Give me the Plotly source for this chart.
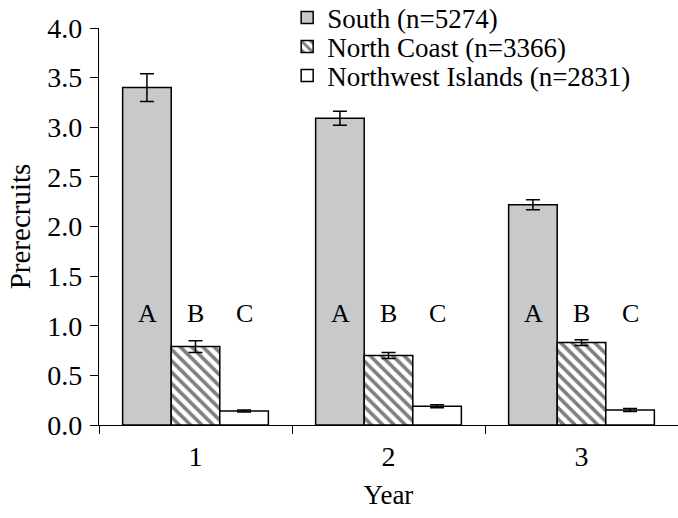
import plotly.graph_objects as go

years = ["1", "2", "3"]
south = [3.40, 3.09, 2.22]
south_err = [0.14, 0.07, 0.05]
north_coast = [0.79, 0.70, 0.83]
north_coast_err = [0.06, 0.03, 0.03]
nw_islands = [0.14, 0.19, 0.15]
nw_islands_err = [0.01, 0.015, 0.015]
series_names = ["South (n=5274)", "North Coast (n=3366)", "Northwest Islands (n=2831)"]
letters = ["A", "B", "C"]
letter_y = 1.12

FONT = "Liberation Serif"

fig = go.Figure()
err_style = dict(type="data", color="black", thickness=1.5, width=7, visible=True)

fig.add_trace(go.Bar(
    x=years, y=south, name=series_names[0], legend="legend",
    marker=dict(color="#c8c9cb", line=dict(color="black", width=1.5)),
    error_y=dict(array=south_err, **err_style),
))
fig.add_trace(go.Bar(
    x=years, y=north_coast, name=series_names[1], legend="legend2",
    marker=dict(color="white", line=dict(color="black", width=1.5),
                pattern=dict(shape="\\", fgcolor="black", bgcolor="white", size=8, solidity=0.45)),
    error_y=dict(array=north_coast_err, **err_style),
))
fig.add_trace(go.Bar(
    x=years, y=nw_islands, name=series_names[2], legend="legend3",
    marker=dict(color="white", line=dict(color="black", width=1.5)),
    error_y=dict(array=nw_islands_err, **err_style),
))

shifts = [-48.5, 0, 48.5]
for i in range(len(years)):
    for letter, sh in zip(letters, shifts):
        fig.add_annotation(x=i, y=letter_y, text=letter, showarrow=False,
                           xshift=sh, font=dict(family=FONT, size=26, color="black"))

leg_common = dict(x=0.325, xanchor="left", yanchor="middle", bgcolor="rgba(0,0,0,0)",
                  font=dict(family=FONT, size=27, color="black"), itemwidth=30)

fig.update_layout(
    width=678, height=518,
    margin=dict(l=99, r=0, t=28, b=93, autoexpand=False),
    paper_bgcolor="white", plot_bgcolor="white",
    barmode="group", bargap=0.245, bargroupgap=0,
    font=dict(family=FONT, size=27, color="black"),
    showlegend=True,
    legend=dict(y=1.0252, **leg_common),
    legend2=dict(y=0.9521, **leg_common),
    legend3=dict(y=0.8791, **leg_common),
    xaxis=dict(type="category", range=[-0.5, 2.5], showline=True, linecolor="black",
               linewidth=1.2, ticks="outside", tickson="boundaries", ticklen=8,
               tickcolor="black", showgrid=False, zeroline=False, tickangle=0,
               ticklabelstandoff=6,
               title=dict(text="Year", font=dict(size=27), standoff=14),
               tickfont=dict(size=28)),
    yaxis=dict(range=[0, 4], dtick=0.5, tickformat=".1f", showline=True, linecolor="black",
               linewidth=1.2, ticks="outside", ticklen=8, tickcolor="black",
               showgrid=False, zeroline=False, ticklabelstandoff=2,
               title=dict(text="Prerecruits", font=dict(size=29), standoff=8),
               tickfont=dict(size=28)),
)

fig.write_html("out.html")
